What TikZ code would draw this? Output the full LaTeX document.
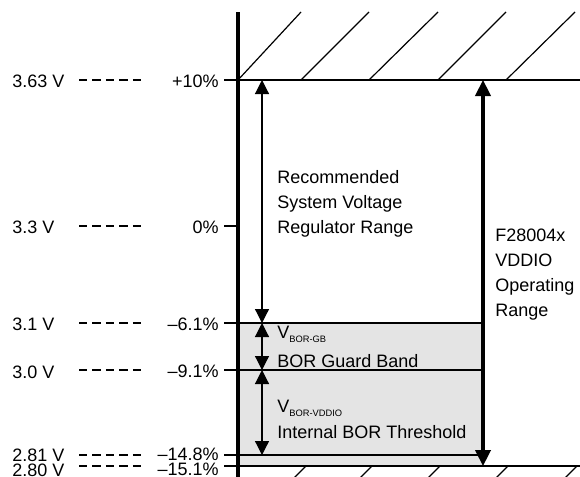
\documentclass[tikz,border=0pt]{standalone}
\usepackage{fontspec}
\setmainfont{Liberation Sans}
\usetikzlibrary{arrows.meta}

\tikzset{
  lbl/.style={inner sep=0pt, font=\fontsize{13.5}{18.75}\selectfont},
  thinline/.style={line width=0.9pt},
  thickline/.style={line width=2.3pt},
  dashlvl/.style={line width=0.9pt, dash pattern=on 6.2pt off 3.9pt},
  thinarrow/.style={line width=0.9pt, {Triangle[length=10.5pt,width=10.5pt]}-{Triangle[length=10.5pt,width=10.5pt]}},
  thickarrow/.style={line width=2.3pt, {Triangle[length=12pt,width=11.5pt]}-{Triangle[length=12pt,width=11.5pt]}},
}
\newcommand{\vsub}[1]{V\raisebox{-3pt}{\fontsize{7}{8}\selectfont #1}}

\begin{document}
\begin{tikzpicture}[x=0.75pt,y=0.75pt,yscale=-1,xscale=1]
\useasboundingbox (0,0) rectangle (580,476);

%Shape: guard band and threshold fill
\fill [fill={rgb, 255:red, 228; green, 228; blue, 228 }] (238,323) rectangle (483,466) ;

%Hatch above +10%
\draw [thinline] (238,80) -- (301,12) ;
\draw [thinline] (301,80) -- (369,12) ;
\draw [thinline] (369,80) -- (438,12) ;
\draw [thinline] (438,80) -- (506,12) ;
\draw [thinline] (506,80) -- (575,12) ;
%Hatch below -15.1%
\draw [thinline] (306,466) -- (294,478) ;
\draw [thinline] (372,466) -- (360,478) ;
\draw [thinline] (440,466) -- (428,478) ;
\draw [thinline] (508,466) -- (496,478) ;
\draw [thinline] (577,466) -- (565,478) ;

%Level coordinates
\coordinate (t10) at (224,80) ;
\coordinate (t0) at (224,226) ;
\coordinate (t61) at (224,323) ;
\coordinate (t91) at (224,370) ;
\coordinate (t148) at (224,455) ;
\coordinate (t151) at (224,466) ;
\coordinate (r10) at (580,80) ;
\coordinate (a0) at (238,226) ;
\coordinate (r61) at (483,323) ;
\coordinate (r91) at (483,370) ;
\coordinate (r148) at (483,455) ;
\coordinate (r151) at (580,466) ;

%Straight Lines: levels
\draw [thinline] (t10) -- (r10) ;
\draw [thinline] (t0) -- (a0) ;
\draw [thinline] (t61) -- (r61) ;
\draw [thinline] (t91) -- (r91) ;
\draw [thinline] (t148) -- (r148) ;
\draw [thinline] (t151) -- (r151) ;

%Straight Lines: axis
\coordinate (axtop) at (238,12) ;
\coordinate (axbot) at (238,477) ;
\draw [thickline] (axtop) -- (axbot) ;

%Dashed leaders
\draw [dashlvl] (79,80) -- (142,80) ;
\draw [dashlvl] (79,226) -- (142,226) ;
\draw [dashlvl] (79,323) -- (142,323) ;
\draw [dashlvl] (79,370) -- (142,370) ;
\draw [dashlvl] (79,455) -- (142,455) ;
\draw [dashlvl] (79,466) -- (142,466) ;

%Arrows
\coordinate (rec1) at (262,80) ;
\coordinate (rec2) at (262,323) ;
\coordinate (gb1) at (262,323) ;
\coordinate (gb2) at (262,370) ;
\coordinate (th1) at (262,370) ;
\coordinate (th2) at (262,455) ;
\coordinate (op1) at (483,80) ;
\coordinate (op2) at (483,466) ;
\draw [thinarrow] (rec1) -- (rec2) ;
\draw [thinarrow] (gb1) -- (gb2) ;
\draw [thinarrow] (th1) -- (th2) ;
\draw [thickarrow] (op1) -- (op2) ;

% Text Node
\draw (12,87) node [anchor=base west][lbl] (v363) {3.63 V};
% Text Node
\draw (12,233) node [anchor=base west][lbl] (v330) {3.3 V};
% Text Node
\draw (12,330) node [anchor=base west][lbl] (v310) {3.1 V};
% Text Node
\draw (12,378) node [anchor=base west][lbl] (v300) {3.0 V};
% Text Node
\draw (12,461) node [anchor=base west][lbl] (v281) {2.81 V};
% Text Node
\draw (12,476) node [anchor=base west][lbl] (v280) {2.80 V};
% Text Node
\draw (219,87) node [anchor=base east][lbl] (p10) {+10\%};
% Text Node
\draw (219,233) node [anchor=base east][lbl] (p0) {0\%};
% Text Node
\draw (219,330) node [anchor=base east][lbl] (p61) {–6.1\%};
% Text Node
\draw (219,377) node [anchor=base east][lbl] (p91) {–9.1\%};
% Text Node
\draw (219,460) node [anchor=base east][lbl] (p148) {–14.8\%};
% Text Node
\draw (219,475) node [anchor=base east][lbl] (p151) {–15.1\%};
% Text Node
\draw (277,183) node [anchor=base west][lbl] (rec) {Recommended};
% Text Node
\draw (277,208) node [anchor=base west][lbl] (sys) {System Voltage};
% Text Node
\draw (277,233) node [anchor=base west][lbl] (reg) {Regulator Range};
% Text Node
\draw (495,241) node [anchor=base west][lbl] (dev) {F28004x};
% Text Node
\draw (495,266) node [anchor=base west][lbl] (vdd) {VDDIO};
% Text Node
\draw (495,291) node [anchor=base west][lbl] (opr) {Operating};
% Text Node
\draw (495,316) node [anchor=base west][lbl] (rng) {Range};
% Text Node
\draw (277,338) node [anchor=base west][lbl] (vgb) {\vsub{BOR-GB}};
% Text Node
\draw (277,367) node [anchor=base west][lbl] (gbt) {BOR Guard Band};
% Text Node
\draw (277,412) node [anchor=base west][lbl] (vth) {\vsub{BOR-VDDIO}};
% Text Node
\draw (277,438) node [anchor=base west][lbl] (tht) {Internal BOR Threshold};

\end{tikzpicture}
\end{document}
